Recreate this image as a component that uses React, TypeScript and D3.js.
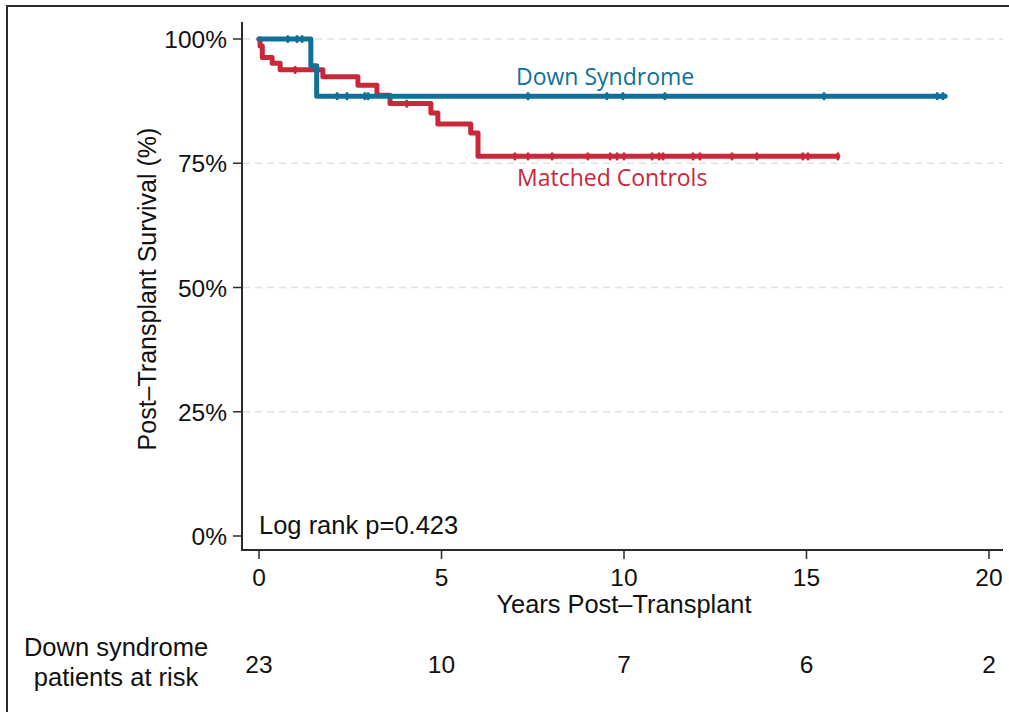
import React from "react";
import * as d3 from "d3";

// Kaplan-Meier steps: [time (years), survival (%)]
const downSteps: [number, number][] = [
  [0, 100],
  [1.42, 94.6],
  [1.58, 88.5],
];
const downEnd = 18.8;
const downCensored = [0.79, 1.04, 1.18, 2.14, 2.41, 2.9, 2.99, 7.37, 9.53, 9.97, 11.12, 15.48, 18.58, 18.74];

const controlSteps: [number, number][] = [
  [0, 100],
  [0.03, 98.6],
  [0.09, 96.3],
  [0.36, 95.1],
  [0.58, 93.8],
  [1.75, 92.4],
  [2.71, 90.7],
  [3.23, 88.7],
  [3.59, 87.0],
  [4.71, 85.1],
  [4.9, 82.9],
  [5.8, 81.1],
  [6.0, 76.4],
];
const controlEnd = 15.86;
const controlCensored = [
  0.99, 4.05, 7.01, 7.37, 8.03, 9.01, 9.62, 9.81, 10.0, 10.77, 10.96, 11.07, 11.89, 12.08, 12.96, 13.64, 14.9,
  15.04, 15.86,
];

const xTicks = [0, 5, 10, 15, 20];
const yTicks = [0, 25, 50, 75, 100];
const atRisk = ["23", "10", "7", "6", "2"];

const BLUE = "#10709a";
const RED = "#c8283a";
const AXIS = "#2b2b2b";
const FONT = "'Liberation Sans', Arial, Helvetica, sans-serif";

const x = d3.scaleLinear().domain([0, 20]).range([259, 989]);
const y = d3.scaleLinear().domain([0, 100]).range([536, 39]);

const line = d3
  .line<[number, number]>()
  .x((d) => x(d[0]))
  .y((d) => y(d[1]))
  .curve(d3.curveStepAfter);

function survivalAt(steps: [number, number][], t: number) {
  let s = steps[0][1];
  for (const [tt, v] of steps) if (tt <= t) s = v;
  return s;
}

function Curve({ steps, end, censored, color }: { steps: [number, number][]; end: number; censored: number[]; color: string }) {
  const pts: [number, number][] = [...steps, [end, steps[steps.length - 1][1]]];
  return (
    <g>
      <path d={line(pts) || ""} fill="none" stroke={color} strokeWidth={5} strokeLinejoin="round" strokeLinecap="round" />
      {censored.map((t, i) => (
        <line
          key={i}
          x1={x(t)}
          x2={x(t)}
          y1={y(survivalAt(steps, t)) - 2.6}
          y2={y(survivalAt(steps, t)) + 2.6}
          stroke={color}
          strokeWidth={3}
          strokeLinecap="round"
        />
      ))}
    </g>
  );
}

export default function App() {
  return (
    <svg width={1009} height={712} style={{ position: "absolute", left: 0, top: 0, background: "#fff" }}>
      <rect x={7} y={6} width={1030} height={730} fill="#fff" stroke={AXIS} strokeWidth={2} />

      {/* grid */}
      {yTicks
        .filter((v) => v > 0)
        .map((v) => (
          <line key={v} x1={243} x2={1003} y1={y(v)} y2={y(v)} stroke="#e2e2e2" strokeWidth={1.5} strokeDasharray="7,5" />
        ))}

      {/* axes */}
      <line x1={242} x2={242} y1={22} y2={550} stroke={AXIS} strokeWidth={2} />
      <line x1={241} x2={1003} y1={550} y2={550} stroke={AXIS} strokeWidth={2} />
      {yTicks.map((v) => (
        <g key={v}>
          <line x1={233} x2={242} y1={y(v)} y2={y(v)} stroke={AXIS} strokeWidth={1.5} />
          <text x={227} y={y(v) + 9} textAnchor="end" fontFamily={FONT} fontSize={24.5} fill="#111">
            {v}%
          </text>
        </g>
      ))}
      {xTicks.map((v, i) => (
        <g key={v}>
          <line x1={x(v)} x2={x(v)} y1={550} y2={559} stroke={AXIS} strokeWidth={1.5} />
          <text x={x(v)} y={586} textAnchor="middle" fontFamily={FONT} fontSize={24.5} fill="#111">
            {v}
          </text>
          <text x={x(v)} y={673} textAnchor="middle" fontFamily={FONT} fontSize={24.5} fill="#111">
            {atRisk[i]}
          </text>
        </g>
      ))}

      <text x={624} y={613} textAnchor="middle" fontFamily={FONT} fontSize={25.4} fill="#111">
        Years Post–Transplant
      </text>
      <text
        transform="translate(156,289) rotate(-90)"
        textAnchor="middle"
        fontFamily={FONT}
        fontSize={25}
        fill="#111"
      >
        Post–Transplant Survival (%)
      </text>
      <text x={259} y={534} fontFamily={FONT} fontSize={25.5} fill="#111">
        Log rank p=0.423
      </text>

      <text x={116} y={656} textAnchor="middle" fontFamily={FONT} fontSize={25.5} fill="#111">
        Down syndrome
      </text>
      <text x={116} y={686} textAnchor="middle" fontFamily={FONT} fontSize={25.5} fill="#111">
        patients at risk
      </text>

      <Curve steps={controlSteps} end={controlEnd} censored={controlCensored} color={RED} />
      <Curve steps={downSteps} end={downEnd} censored={downCensored} color={BLUE} />

      <text x={516} y={85} fontFamily="'Open Sans', sans-serif" fontSize={23} fill={BLUE}>
        Down Syndrome
      </text>
      <text x={517} y={186} fontFamily="'Open Sans', sans-serif" fontSize={23} fill={RED}>
        Matched Controls
      </text>
    </svg>
  );
}
